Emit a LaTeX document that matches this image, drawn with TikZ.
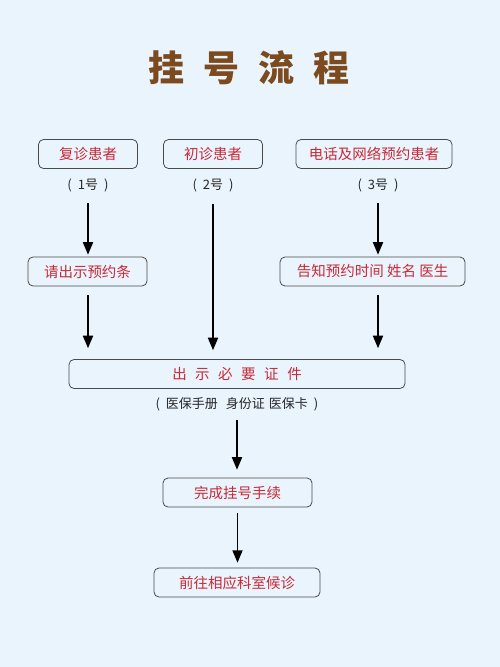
\documentclass[tikz,border=0pt]{standalone}
\usepackage{fontspec}
\newfontfamily\cjk{Noto Sans CJK SC}
\usetikzlibrary{arrows}
\definecolor{bgblue}{HTML}{EAF4FD}
\definecolor{boxred}{HTML}{C62A36}
\definecolor{titlebrown}{HTML}{7B4A1E}
\definecolor{edgegray}{HTML}{4A4A4A}

\begin{document}
\begin{tikzpicture}[x=1pt,y=-1pt]
% Styles
\tikzstyle{stage}=[draw=edgegray,line width=0.8pt,rounded corners=5pt,minimum height=29pt,inner sep=0pt,text=boxred,font=\cjk\fontsize{14.5}{16}\selectfont]
\tikzstyle{note}=[text=black!85,font=\cjk\fontsize{13}{15}\selectfont]
\tikzstyle{flow}=[-triangle 45,line width=1.9pt]

\useasboundingbox (0,0) rectangle (500,667);
\fill[bgblue] (0,0) rectangle (500,667);

% title
\node[text=titlebrown,font=\cjk\bfseries\fontsize{36}{40}\selectfont] (title) at (249,68) {挂\hspace{19pt}号\hspace{19pt}流\hspace{19pt}程};

% draw the nodes
\node[stage,minimum width=99pt] (fuzhen) at (88,154) {复诊患者};
\node[stage,minimum width=99pt] (chuzhen) at (213,154) {初诊患者};
\node[stage,minimum width=156pt] (yuyue) at (374,154) {电话及网络预约患者};

\node[note] (hao1) at (88,185) {(\hspace{6pt}1号\hspace{6pt})};
\node[note] (hao2) at (213,185) {(\hspace{6pt}2号\hspace{6pt})};
\node[note] (hao3) at (378,185) {(\hspace{6pt}3号\hspace{6pt})};

\node[stage,minimum width=119pt] (qingchu) at (87.5,271.5) {请出示预约条};
\node[stage,minimum width=185pt] (gaozhi) at (372.5,271.5) {告知预约时间 姓名 医生};

\node[stage,minimum width=336pt] (zhengjian) at (237,374) {出\hspace{8.5pt}示\hspace{8.5pt}必\hspace{8.5pt}要\hspace{8.5pt}证\hspace{8.5pt}件};
\node[note] (zhengjianmx) at (237,404) {(\hspace{6pt}医保手册\hspace{8pt}身份证\hspace{4pt}医保卡\hspace{6pt})};

\node[stage,minimum width=149pt] (wancheng) at (237.5,492.5) {完成挂号手续};
\node[stage,minimum width=166pt] (houzhen) at (237,582.5) {前往相应科室候诊};

% arrows
\draw[flow,shorten <=8pt,shorten >=2pt] (hao1.south) -- (hao1.south |- qingchu.north);
\draw[flow,shorten <=9pt,shorten >=11pt] (hao1.south |- qingchu.south) -- (hao1.south |- zhengjian.north);
\draw[flow,shorten <=9pt,shorten >=9pt] (hao2.south) -- (hao2.south |- zhengjian.north);
\draw[flow,shorten <=8pt,shorten >=2pt] (hao3.south) -- (hao3.south |- gaozhi.north);
\draw[flow,shorten <=9pt,shorten >=11pt] (hao3.south |- gaozhi.south) -- (hao3.south |- zhengjian.north);
\draw[flow,shorten <=6pt,shorten >=8pt] (zhengjianmx.south) -- (zhengjianmx.south |- wancheng.north);
\draw[flow,shorten <=6pt,shorten >=5pt] (wancheng.south) -- (wancheng.south |- houzhen.north);

\end{tikzpicture}
\end{document}
